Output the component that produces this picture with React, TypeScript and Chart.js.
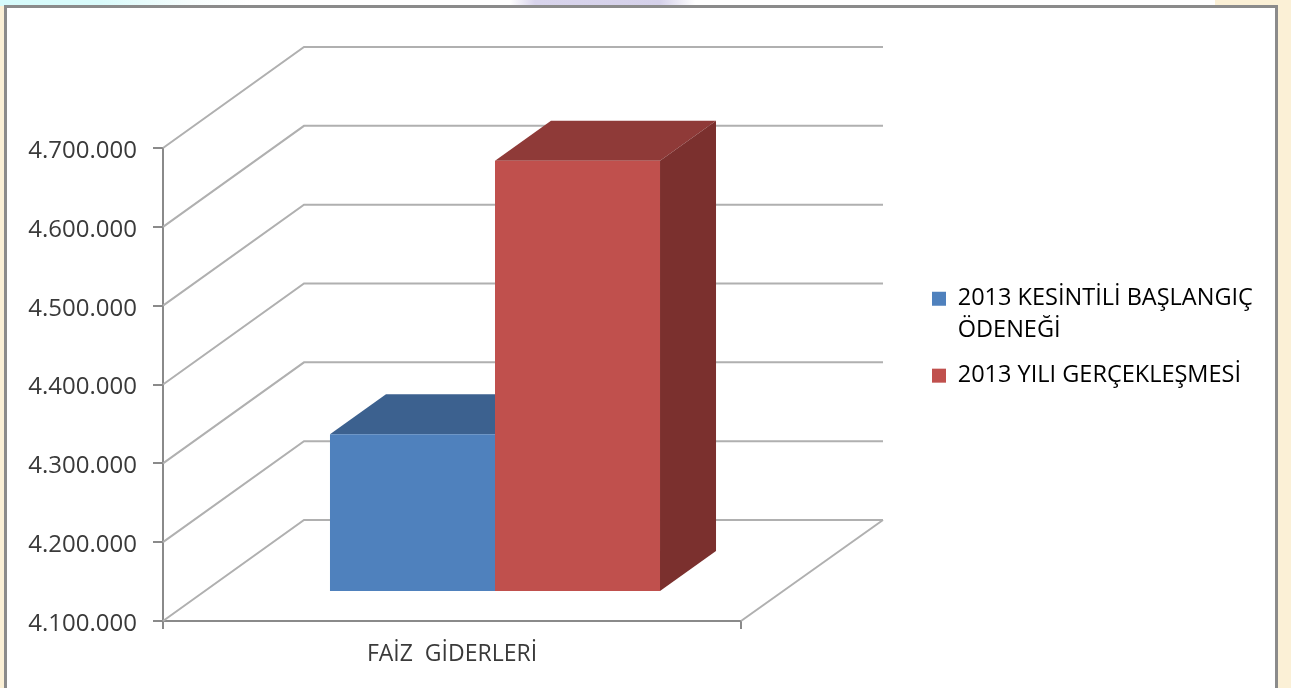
import React, { useEffect, useRef } from "react";
import { Chart, registerables } from "chart.js";

Chart.register(...registerables);

const categories = ["FAİZ  GİDERLERİ"];
const seriesNames = ["2013 KESİNTİLİ BAŞLANGIÇ ÖDENEĞİ", "2013 YILI GERÇEKLEŞMESİ"];
const legendLines = [["2013 KESİNTİLİ BAŞLANGIÇ", "ÖDENEĞİ"], ["2013 YILI GERÇEKLEŞMESİ"]];
const baslangic = [4300000];
const gerceklesme = [4647000];
const axisMin = 4100000;
const axisMax = 4700000;
const axisStep = 100000;
const frontColors = ["#4f81bd", "#c0504d"];
const topColors = ["#3c618f", "#8f3a38"];
const sideColors = ["#2f4d72", "#7b302e"];

const FONT = "'Open Sans', sans-serif";
const WALL = { dx: 141, dy: -101, rightExtra: 1 };
const BAR_FRONT = { dx: 43, dy: -29 };
const BAR_DEPTH = { dx: 56, dy: -40 };
const GRID = "#b0b0b0";
const AXIS = "#8a8a8a";
const TEXT = "#3a3a3a";

const poly = (ctx: CanvasRenderingContext2D, pts: number[][], fill: string) => {
  ctx.beginPath();
  pts.forEach(([x, y], i) => (i ? ctx.lineTo(x, y) : ctx.moveTo(x, y)));
  ctx.closePath();
  ctx.fillStyle = fill;
  ctx.fill();
};

const bar3d = {
  id: "bar3d",
  afterLayout(chart: any) {
    const legend = chart.legend;
    if (legend) {
      legend.left = 919;
      legend.right = 1272;
      legend.top = 274;
      legend.bottom = 422;
    }
  },
  beforeDatasetsDraw(chart: any) {
    const { ctx, chartArea: a } = chart;
    const y = chart.scales.y;
    ctx.save();
    ctx.lineWidth = 2;
    ctx.strokeStyle = GRID;
    const backRight = a.right + WALL.dx + WALL.rightExtra;
    y.ticks.forEach((t: any) => {
      const py = y.getPixelForValue(t.value);
      ctx.beginPath();
      ctx.moveTo(a.left, py);
      ctx.lineTo(a.left + WALL.dx, py + WALL.dy);
      ctx.lineTo(backRight, py + WALL.dy);
      ctx.stroke();
    });
    ctx.beginPath();
    ctx.moveTo(a.right, a.bottom);
    ctx.lineTo(backRight, a.bottom + WALL.dy);
    ctx.stroke();
    chart.getSortedVisibleDatasetMetas().forEach((meta: any, i: number) => {
      meta.data.forEach((b: any) => {
        const l = b.x - b.width / 2 + BAR_FRONT.dx;
        const r = b.x + b.width / 2 + BAR_FRONT.dx;
        const t = b.y + BAR_FRONT.dy;
        const bt = b.base + BAR_FRONT.dy;
        const { dx, dy } = BAR_DEPTH;
        poly(ctx, [[l, t], [r, t], [r + dx, t + dy], [l + dx, t + dy]], topColors[i]);
        poly(ctx, [[r, t], [r + dx, t + dy], [r + dx, bt + dy], [r, bt]], sideColors[i]);
      });
    });
    ctx.restore();
    ctx.save();
    ctx.translate(BAR_FRONT.dx, BAR_FRONT.dy);
  },
  afterDatasetsDraw(chart: any) {
    chart.ctx.restore();
  },
};

export default function App() {
  const ref = useRef<HTMLCanvasElement>(null);
  useEffect(() => {
    const chart = new Chart(ref.current!, {
      type: "bar",
      plugins: [bar3d],
      data: {
        labels: categories,
        datasets: [
          { label: seriesNames[0], data: baslangic, base: axisMin, backgroundColor: frontColors[0], clip: false as any },
          { label: seriesNames[1], data: gerceklesme, base: axisMin, backgroundColor: frontColors[1], clip: false as any },
        ],
      },
      options: {
        responsive: false,
        animation: false,
        layout: { padding: { left: 0, top: 148, right: 450, bottom: 0 } },
        datasets: { bar: { categoryPercentage: 0.571, barPercentage: 1 } },
        plugins: {
          title: { display: false },
          tooltip: { enabled: false },
          legend: {
            position: "right",
            align: "start",
            maxWidth: 100,
            labels: {
              boxWidth: 14,
              boxHeight: 14,
              padding: 13,
              color: TEXT,
              font: { family: FONT, size: 23.5, lineHeight: 1.36 },
              generateLabels: () =>
                legendLines.map((lines, i) => ({
                  text: lines as any,
                  fillStyle: frontColors[i],
                  strokeStyle: frontColors[i],
                  lineWidth: 0,
                  datasetIndex: i,
                })),
            },
          },
        },
        scales: {
          x: {
            grid: { offset: true, drawOnChartArea: false, color: AXIS, tickLength: 8, lineWidth: 2 },
            border: { color: AXIS, width: 2 },
            ticks: { color: TEXT, font: { family: FONT, size: 23 }, padding: 12, maxRotation: 0 },
            afterFit: (s: any) => {
              s.height = 67;
            },
          },
          y: {
            min: axisMin,
            max: axisMax,
            grid: { drawOnChartArea: false, color: AXIS, tickLength: 10, lineWidth: 2 },
            border: { color: AXIS, width: 2 },
            ticks: {
              stepSize: axisStep,
              color: TEXT,
              padding: 16,
              labelOffset: 3,
              font: { family: FONT, size: 24 },
              callback: (v: any) => Number(v).toLocaleString("de-DE"),
            },
            afterFit: (s: any) => {
              s.width = 163;
            },
          },
        },
      },
    });
    return () => chart.destroy();
  }, []);
  return (
    <div style={{ position: "fixed", left: 0, top: 0, width: 1291, height: 688, overflow: "hidden", background: "#fbf0d6" }}>
      <div
        style={{
          position: "absolute",
          left: 0,
          top: 0,
          width: 1215,
          height: 6,
          background:
            "linear-gradient(90deg,#d6fbfb 0,#d9fbfb 100px,#f6fdfd 190px,#ffffff 250px,#ffffff 510px,#d8d4ec 535px,#d5d1ea 660px,#ffffff 695px,#ffffff 1215px)",
        }}
      />
      <div
        style={{
          position: "absolute",
          left: 4,
          top: 5,
          width: 1268,
          height: 690,
          background: "#fff",
          border: "3px solid #8b8b8b",
        }}
      />
      <canvas ref={ref} width={1291} height={688} style={{ position: "absolute", left: 0, top: 0, display: "block" }} />
    </div>
  );
}
